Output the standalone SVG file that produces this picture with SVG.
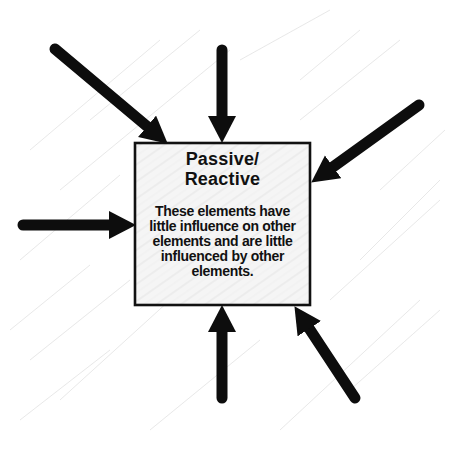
<svg xmlns="http://www.w3.org/2000/svg" width="449" height="449" viewBox="0 0 449 449">
  <style>
    .shaft { stroke: #0d0d0d; stroke-width: 11; stroke-linecap: round; fill: none; }
    .title { font-family: "Liberation Sans", Arial, sans-serif; font-weight: bold; font-size: 18px; fill: #111; text-anchor: middle; letter-spacing: 0.2px; }
    .body { font-family: "Liberation Sans", Arial, sans-serif; font-weight: bold; font-size: 14px; fill: #111; text-anchor: middle; letter-spacing: -0.3px; }
    .hatch { stroke: #dcdcdc; stroke-width: 0.8; fill: none; }
  </style>
  <defs>
    <marker id="head" markerUnits="userSpaceOnUse" markerWidth="30" markerHeight="30" refX="2" refY="14" orient="auto">
      <path d="M0,0 L27,14 L0,28 z" fill="#0d0d0d"/>
    </marker>
    <pattern id="sketch" patternUnits="userSpaceOnUse" width="14" height="14" patternTransform="rotate(-35)">
      <line x1="0" y1="3" x2="14" y2="3" stroke="#e2e2e2" stroke-width="0.9"/>
      <line x1="0" y1="10" x2="14" y2="10" stroke="#ececec" stroke-width="0.7"/>
    </pattern>
  </defs>
  <rect width="449" height="449" fill="#ffffff"/>
  <g id="background-texture" class="hatch" opacity="0.8">
    <path d="M30 150 L160 40 M60 190 L230 50 M20 260 L120 175 M300 120 L400 40 M330 300 L440 200 M60 400 L170 300 M280 430 L420 300 M10 330 L90 265 M380 190 L445 130 M240 60 L330 10"/>
    <path d="M90 120 L200 30 M350 390 L440 310 M30 360 L130 280 M300 80 L360 30 M20 420 L110 350 M150 430 L260 340 M360 260 L440 180"/>
  </g>
  <g id="node-passive-reactive">
    <rect x="135" y="143" width="175" height="162" fill="#f5f5f5" stroke="none"/>
    <rect x="135" y="143" width="175" height="162" fill="url(#sketch)" stroke="#111" stroke-width="2.6"/>
    <text class="title" x="222.5" y="165">Passive/</text>
    <text class="title" x="222.5" y="185">Reactive</text>
    <text class="body" x="222.5" y="216">These elements have</text>
    <text class="body" x="222.5" y="231">little influence on other</text>
    <text class="body" x="222.5" y="246">elements and are little</text>
    <text class="body" x="222.5" y="261">influenced by other</text>
    <text class="body" x="222.5" y="276">elements.</text>
  </g>
  <g id="connectors">
    <line class="shaft" x1="55" y1="49" x2="148.6" y2="127.6" marker-end="url(#head)"/>
    <line class="shaft" x1="222" y1="50" x2="222" y2="118" marker-end="url(#head)"/>
    <line class="shaft" x1="419" y1="105" x2="331.5" y2="168" marker-end="url(#head)"/>
    <line class="shaft" x1="23" y1="225" x2="111" y2="225" marker-end="url(#head)"/>
    <line class="shaft" x1="222" y1="398" x2="222" y2="330" marker-end="url(#head)"/>
    <line class="shaft" x1="355" y1="398" x2="308.2" y2="327" marker-end="url(#head)"/>
  </g>
</svg>
